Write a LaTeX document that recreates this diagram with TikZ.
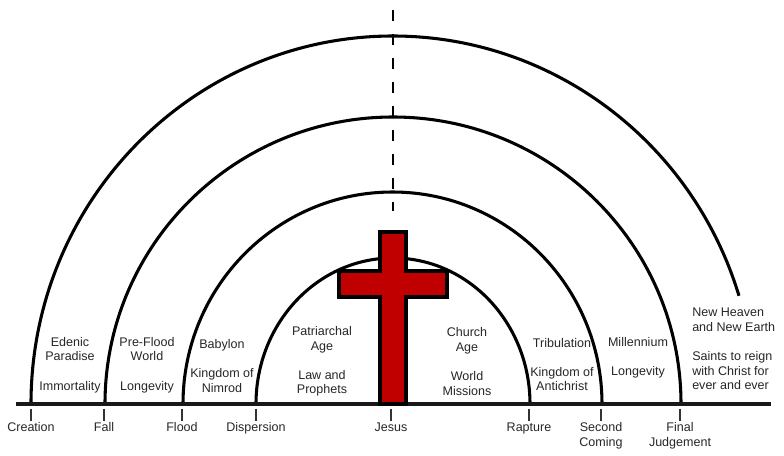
\documentclass[tikz,border=0pt]{standalone}
\usepackage{fontspec}
\setmainfont{Liberation Sans}
\definecolor{crossred}{HTML}{C00000}
\tikzset{
	arch/.style={line width=2.3pt,black},
	baseline rule/.style={line width=2.6pt,black!90},
	tick/.style={line width=0.8pt,black!80,shorten >=1.5pt},
	era/.style={font=\fontsize{9.4}{10.9}\selectfont,align=center,inner sep=0pt,text=black!85},
	event/.style={era,anchor=north}
}
\begin{document}
\begin{tikzpicture}[x=0.75pt,y=0.75pt]
	\useasboundingbox (-393,-51) rectangle (391,404);
	\def\yTick{-4.5};
	\def\yLabel{-18.5};
	% arches
	\draw[arch] (-137,0) arc[start angle=180,end angle=0,x radius=137,y radius=146];
	\draw[arch] (-210,0) arc[start angle=180,end angle=0,x radius=209.5,y radius=212];
	\draw[arch] (-288,0) arc[start angle=180,end angle=0,x radius=288,y radius=287];
	\draw[arch] (-362,0) arc[start angle=180,end angle=17.1,x radius=362,y radius=368];
	\coordinate (lineTop) at (0,394);
	\coordinate (lineBottom) at (0,193);
	\draw[line width=2.1pt,dash pattern=on 8.3pt off 9.7pt] (lineTop) -- (lineBottom);
	% time line
	\coordinate (lineLeft) at (-377,0);
	\coordinate (lineRight) at (378,0);
	\draw[baseline rule] (lineLeft) -- (lineRight);
	% cross
	\draw[line width=2.4pt,fill=crossred] (-13,0) -- (-13,107) -- (-54,107) -- (-54,133) -- (-13,133) -- (-13,172) -- (13,172) -- (13,133) -- (54,133) -- (54,107) -- (13,107) -- (13,0) -- cycle;
	% events
	\foreach \xE/\nameE/\textE in {-362/creation/Creation,-289/fall/Fall,-211/flood/Flood,-137/dispersion/Dispersion,-2/jesus/Jesus,136/rapture/Rapture,208/coming/{Second\\Coming},287/judgement/{Final\\Judgement}}{
		\node[event] (\nameE) at (\xE,\yLabel) {\textE};
		\coordinate (\nameE tick) at (\xE,\yTick);
		\draw[tick] (\nameE tick) -- (\nameE.north);
	}
	% ages
	\node[era] (edenic) at (-323,39) {Edenic\\Paradise\\[10.9pt]Immortality};
	\node[era] (preflood) at (-246,39) {Pre-Flood\\World\\[10.9pt]Longevity};
	\node[era] (babylon) at (-171,38) {Babylon\\[10.9pt]Kingdom of\\Nimrod};
	\node[era] (patriarchal) at (-71,42.5) {Patriarchal\\Age\\[10.9pt]Law and\\Prophets};
	\node[era] (church) at (74,42.5) {Church\\Age\\[10.9pt]World\\Missions};
	\node[era] (tribulation) at (169,39.5) {Tribulation\\[10.9pt]Kingdom of\\Antichrist};
	\node[era] (millennium) at (245,46.5) {Millennium\\[10.9pt]Longevity};
	\node[era,align=left,anchor=west] (heaven) at (299,55) {New Heaven\\and New Earth\\[10.9pt]Saints to reign\\with Christ for\\ever and ever};
\end{tikzpicture}
\end{document}
